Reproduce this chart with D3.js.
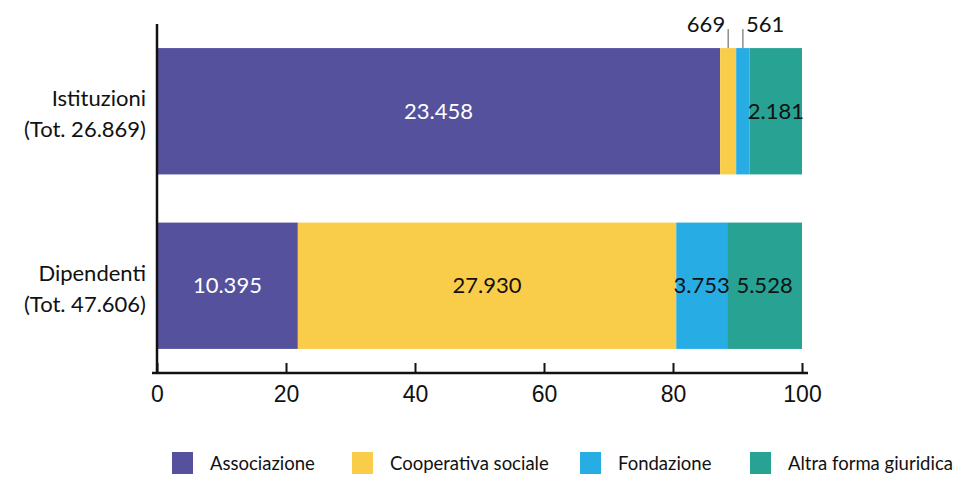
<!DOCTYPE html>
<html>
  <head>
    <meta charset="utf-8">
    <title>Istituzioni e dipendenti per forma giuridica</title>
    <script src="https://d3js.org/d3.v7.min.js"></script>
    <style>
      body { margin: 0; background: #fff; }
      svg { font-family: Lato, "Open Sans", sans-serif; }
      .tick text { font-size: 23px; fill: #111; }
      .cat-label { font-size: 22px; fill: #111; }
      .val-label { font-size: 22px; }
      .legend-label { font-size: 18.5px; fill: #111; }
    </style>
  </head>
  <body>
    <div id="chart"></div>
    <script>
      // rows of the chart
      const categories = ['Istituzioni', 'Dipendenti'];
      const categoryTotals = ['Tot. 26.869', 'Tot. 47.606'];

      // stacked series (absolute counts)
      const seriesNames = ['Associazione', 'Cooperativa sociale', 'Fondazione', 'Altra forma giuridica'];
      const associazione = [23458, 10395];
      const cooperativa = [669, 27930];
      const fondazione = [561, 3753];
      const altra = [2181, 5528];

      const xTicks = [0, 20, 40, 60, 80, 100];
      const colors = ['#55519c', '#f9cd4a', '#27ade3', '#27a293'];
      const labelColors = ['#fff', '#111', '#111', '#111'];

      const width = 962, height = 479;
      const svg = d3.select('#chart').append('svg')
        .attr('width', width)
        .attr('height', height);

      // build percent table
      const rows = categories.map((c, i) => {
        const vals = [associazione[i], cooperativa[i], fondazione[i], altra[i]];
        const tot = d3.sum(vals);
        const r = { cat: c, tot: categoryTotals[i] };
        seriesNames.forEach((s, j) => { r[s] = vals[j] / tot * 100; r[s + '_n'] = vals[j]; });
        return r;
      });
      const stacked = d3.stack().keys(seriesNames)(rows);

      const x = d3.scaleLinear().domain([0, 100]).range([157, 802]);
      const y = d3.scaleBand().domain(categories).range([24, 373])
        .paddingInner(0.276).paddingOuter(0.138);

      const fmt = d3.formatLocale({ decimal: ',', thousands: '.', grouping: [3], currency: ['€', ''] }).format(',d');

      // bars
      const layers = svg.append('g').selectAll('g')
        .data(stacked).join('g')
        .attr('fill', (d, i) => colors[i]);

      layers.selectAll('rect')
        .data(d => d)
        .join('rect')
        .attr('x', d => x(d[0]))
        .attr('y', d => y(d.data.cat))
        .attr('width', d => x(d[1]) - x(d[0]))
        .attr('height', y.bandwidth());

      // value labels
      stacked.forEach((layer, i) => {
        layer.forEach(d => {
          const n = d.data[layer.key + '_n'];
          const w = x(d[1]) - x(d[0]);
          const cx = (x(d[0]) + x(d[1])) / 2;
          const top = y(d.data.cat);
          if (w > 30) {
            svg.append('text')
              .attr('class', 'val-label')
              .attr('x', cx)
              .attr('y', top + y.bandwidth() / 2)
              .attr('dy', '0.35em')
              .attr('text-anchor', 'middle')
              .attr('fill', labelColors[i])
              .text(fmt(n));
          } else {
            // small slice: label above bar with a leader line
            const right = i === 2;
            svg.append('line')
              .attr('x1', cx).attr('x2', cx)
              .attr('y1', top).attr('y2', top - 19)
              .attr('stroke', '#555').attr('stroke-width', 1);
            svg.append('text')
              .attr('class', 'val-label')
              .attr('x', right ? cx + 3 : cx - 3)
              .attr('y', top - 16)
              .attr('text-anchor', right ? 'start' : 'end')
              .attr('fill', '#111')
              .text(fmt(n));
          }
        });
      });

      // x axis
      const xAxis = d3.axisBottom(x)
        .tickValues(xTicks)
        .tickSize(-10)
        .tickSizeOuter(0)
        .tickPadding(13)
        .tickFormat(d3.format('d'));

      const axisG = svg.append('g')
        .attr('transform', 'translate(0,373)')
        .call(xAxis);
      axisG.select('.domain').remove();
      axisG.selectAll('.tick line').attr('stroke', '#111').attr('stroke-width', 2);
      axisG.selectAll('.tick text').attr('font-family', null).attr('font-size', null);
      axisG.append('line')
        .attr('x1', 152).attr('x2', 808)
        .attr('stroke', '#111').attr('stroke-width', 2.5);

      // y axis line
      svg.append('line')
        .attr('x1', 157).attr('x2', 157)
        .attr('y1', 24).attr('y2', 374)
        .attr('stroke', '#111').attr('stroke-width', 2.5);

      // category labels
      rows.forEach(r => {
        const cy = y(r.cat) + y.bandwidth() / 2;
        const t = svg.append('text')
          .attr('class', 'cat-label')
          .attr('text-anchor', 'end');
        t.append('tspan').attr('x', 146).attr('y', cy - 5).text(r.cat);
        t.append('tspan').attr('x', 146).attr('y', cy + 26).text('(' + r.tot + ')');
      });

      // legend
      const legendX = [172, 352, 580, 750];
      const legend = svg.append('g').selectAll('g')
        .data(seriesNames).join('g')
        .attr('transform', (d, i) => `translate(${legendX[i]},452)`);
      legend.append('rect')
        .attr('width', 21).attr('height', 22)
        .attr('fill', (d, i) => colors[i]);
      legend.append('text')
        .attr('class', 'legend-label')
        .attr('x', 38).attr('y', 18)
        .text(d => d);
    </script>
  </body>
</html>
